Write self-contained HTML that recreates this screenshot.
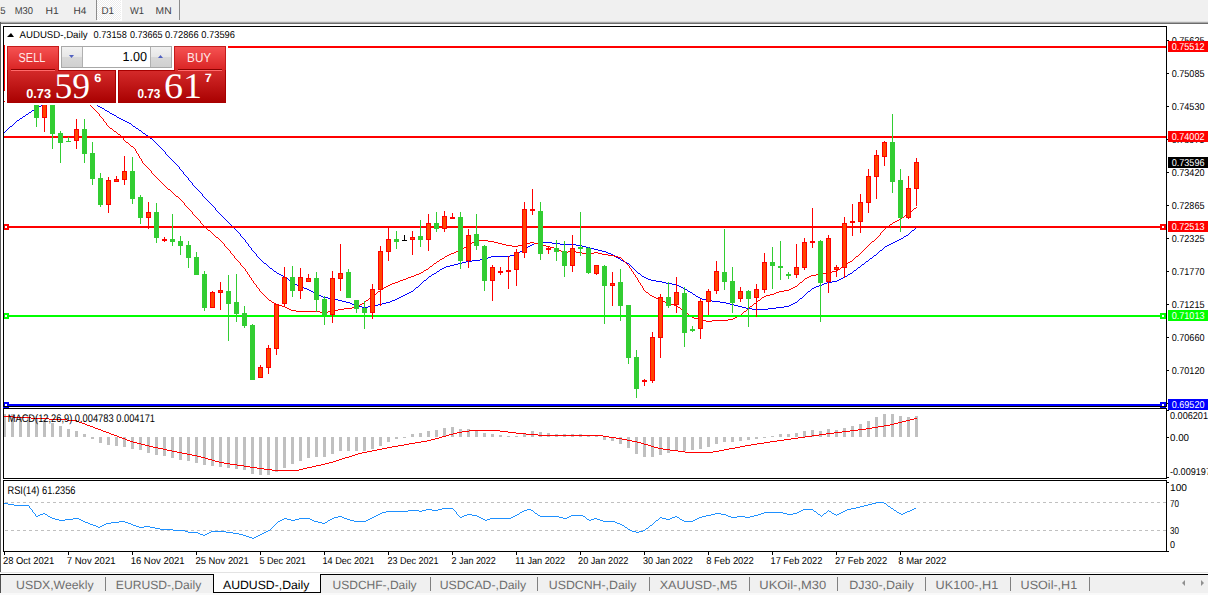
<!DOCTYPE html>
<html><head><meta charset="utf-8"><style>
html,body{margin:0;padding:0;width:1208px;height:595px;overflow:hidden;background:#fff;}
svg{display:block;}

</style></head><body>
<svg width="1208" height="595" viewBox="0 0 1208 595">
<rect x="0" y="0" width="1208" height="595" fill="#ffffff" />
<rect x="0" y="0" width="1208" height="22" fill="#f0f0f0" />
<defs><pattern id="chk" width="2" height="2" patternUnits="userSpaceOnUse"><rect width="2" height="2" fill="#ffffff"/><rect width="1" height="1" fill="#ececec"/><rect x="1" y="1" width="1" height="1" fill="#ececec"/></pattern><linearGradient id="hdr" x1="0" y1="0" x2="0" y2="1"><stop offset="0" stop-color="#f75454"/><stop offset="1" stop-color="#d92424"/></linearGradient><linearGradient id="low" x1="0" y1="0" x2="0" y2="1"><stop offset="0" stop-color="#d52b2b"/><stop offset="1" stop-color="#a80000"/></linearGradient><linearGradient id="btn" x1="0" y1="0" x2="0" y2="1"><stop offset="0" stop-color="#f2f2f2"/><stop offset="0.5" stop-color="#e6e6e6"/><stop offset="0.5" stop-color="#d8d8d8"/><stop offset="1" stop-color="#d0d0d0"/></linearGradient></defs>
<rect x="97" y="0" width="24" height="20" fill="url(#chk)" />
<rect x="97" y="20" width="25" height="1" fill="#ffffff" />
<rect x="121" y="0" width="1" height="21" fill="#ffffff" />
<rect x="96" y="0" width="1" height="20" fill="#8c8c8c" />
<rect x="179" y="0" width="1" height="20" fill="#8c8c8c" />
<text x="0.2" y="14" font-family="Liberation Sans" font-size="10" fill="#404040" text-rendering="geometricPrecision" textLength="5.3" lengthAdjust="spacingAndGlyphs" >5</text>
<text x="14.7" y="14" font-family="Liberation Sans" font-size="10" fill="#404040" text-rendering="geometricPrecision" textLength="18.3" lengthAdjust="spacingAndGlyphs" >M30</text>
<text x="45.6" y="14" font-family="Liberation Sans" font-size="10" fill="#404040" text-rendering="geometricPrecision" textLength="13.2" lengthAdjust="spacingAndGlyphs" >H1</text>
<text x="73.4" y="14" font-family="Liberation Sans" font-size="10" fill="#404040" text-rendering="geometricPrecision" textLength="12.9" lengthAdjust="spacingAndGlyphs" >H4</text>
<text x="101.5" y="14" font-family="Liberation Sans" font-size="10" fill="#404040" text-rendering="geometricPrecision" textLength="12.5" lengthAdjust="spacingAndGlyphs" >D1</text>
<text x="130.0" y="14" font-family="Liberation Sans" font-size="10" fill="#404040" text-rendering="geometricPrecision" textLength="14.0" lengthAdjust="spacingAndGlyphs" >W1</text>
<text x="155.6" y="14" font-family="Liberation Sans" font-size="10" fill="#404040" text-rendering="geometricPrecision" textLength="16.0" lengthAdjust="spacingAndGlyphs" >MN</text>
<rect x="0" y="21" width="1208" height="1" fill="#e0e0e0" />
<rect x="0" y="22" width="1208" height="1" fill="#a8a8a8" />
<rect x="0" y="23" width="1208" height="1" fill="#6c6c6c" />
<rect x="0" y="22" width="1" height="550" fill="#5c5c5c" />
<clipPath id="cm"><rect x="4" y="27" width="1162" height="379"/></clipPath>
<clipPath id="cd"><rect x="4" y="409" width="1162" height="69"/></clipPath>
<clipPath id="cr"><rect x="4" y="481" width="1162" height="70"/></clipPath>
<g clip-path="url(#cm)" shape-rendering="crispEdges">
<path d="M43 104h1v1h-1zM95 104h2v1h-2zM246 242h1v1h-1zM538 242h14v1h-14zM893 242h2v1h-2zM167 155h1v1h-1zM48 100h2v1h-2zM88 100h3v1h-3zM32 110h2v1h-2zM105 110h2v1h-2zM248 244h1v1h-1zM532 244h2v1h-2zM560 244h16v1h-16zM889 244h2v1h-2zM207 200h1v1h-1zM264 263h2v1h-2zM458 263h4v1h-4zM627 263h2v1h-2zM864 263h1v1h-1zM746 308h6v1h-6zM768 308h8v1h-8zM346 302h4v1h-4zM386 302h4v1h-4zM720 302h6v1h-6zM795 302h2v1h-2zM328 298h6v1h-6zM397 298h2v1h-2zM700 298h2v1h-2zM800 298h2v1h-2zM247 243h1v1h-1zM534 243h4v1h-4zM552 243h8v1h-8zM891 243h2v1h-2zM262 261h1v1h-1zM466 261h6v1h-6zM623 261h2v1h-2zM866 261h2v1h-2zM68 95h4v1h-4zM192 184h1v1h-1zM752 309h16v1h-16zM248 245h1v1h-1zM530 245h2v1h-2zM576 245h6v1h-6zM887 245h2v1h-2zM274 271h2v1h-2zM437 271h2v1h-2zM636 271h1v1h-1zM853 271h1v1h-1zM250 247h1v1h-1zM527 247h1v1h-1zM586 247h4v1h-4zM884 247h1v1h-1zM338 300h4v1h-4zM392 300h3v1h-3zM706 300h6v1h-6zM798 300h1v1h-1zM7 129h1v1h-1zM138 129h1v1h-1zM243 238h1v1h-1zM901 238h2v1h-2zM283 276h2v1h-2zM429 276h2v1h-2zM642 276h2v1h-2zM845 276h2v1h-2zM41 105h2v1h-2zM97 105h1v1h-1zM355 305h3v1h-3zM374 305h4v1h-4zM734 305h4v1h-4zM789 305h2v1h-2zM257 256h1v1h-1zM491 256h19v1h-19zM615 256h1v1h-1zM873 256h1v1h-1zM16 121h1v1h-1zM125 121h2v1h-2zM288 279h1v1h-1zM426 279h1v1h-1zM648 279h3v1h-3zM839 279h2v1h-2zM29 112h2v1h-2zM109 112h1v1h-1zM281 275h2v1h-2zM431 275h1v1h-1zM641 275h1v1h-1zM847 275h1v1h-1zM352 304h3v1h-3zM378 304h4v1h-4zM730 304h4v1h-4zM791 304h2v1h-2zM358 306h4v1h-4zM368 306h6v1h-6zM738 306h4v1h-4zM784 306h5v1h-5zM244 239h1v1h-1zM899 239h2v1h-2zM10 126h2v1h-2zM133 126h2v1h-2zM174 162h1v1h-1zM214 207h1v1h-1zM342 301h4v1h-4zM390 301h2v1h-2zM712 301h8v1h-8zM797 301h1v1h-1zM292 282h1v1h-1zM422 282h1v1h-1zM662 282h4v1h-4zM827 282h5v1h-5zM229 223h1v1h-1zM159 146h1v1h-1zM249 246h1v1h-1zM528 246h2v1h-2zM582 246h4v1h-4zM885 246h2v1h-2zM22 117h1v1h-1zM117 117h2v1h-2zM53 98h5v1h-5zM80 98h4v1h-4zM199 191h1v1h-1zM302 287h2v1h-2zM416 287h2v1h-2zM681 287h2v1h-2zM814 287h2v1h-2zM253 251h1v1h-1zM520 251h2v1h-2zM602 251h4v1h-4zM879 251h1v1h-1zM14 123h1v1h-1zM129 123h2v1h-2zM350 303h2v1h-2zM382 303h4v1h-4zM726 303h4v1h-4zM793 303h2v1h-2zM148 136h1v1h-1zM19 119h1v1h-1zM121 119h2v1h-2zM285 277h1v1h-1zM428 277h1v1h-1zM644 277h2v1h-2zM843 277h2v1h-2zM221 215h1v1h-1zM200 192h1v1h-1zM47 101h1v1h-1zM91 101h2v1h-2zM268 266h1v1h-1zM446 266h4v1h-4zM631 266h1v1h-1zM860 266h1v1h-1zM236 230h1v1h-1zM912 230h2v1h-2zM277 273h2v1h-2zM434 273h2v1h-2zM638 273h2v1h-2zM850 273h2v1h-2zM334 299h4v1h-4zM395 299h2v1h-2zM702 299h4v1h-4zM799 299h1v1h-1zM63 96h5v1h-5zM72 96h4v1h-4zM273 270h1v1h-1zM439 270h1v1h-1zM635 270h1v1h-1zM854 270h2v1h-2zM261 260h1v1h-1zM472 260h8v1h-8zM621 260h2v1h-2zM868 260h1v1h-1zM362 307h6v1h-6zM742 307h4v1h-4zM776 307h8v1h-8zM25 115h1v1h-1zM114 115h2v1h-2zM241 236h1v1h-1zM904 236h2v1h-2zM233 227h1v1h-1zM916 227h1v1h-1zM185 175h1v1h-1zM58 97h5v1h-5zM76 97h4v1h-4zM323 297h5v1h-5zM399 297h2v1h-2zM698 297h2v1h-2zM802 297h1v1h-1zM228 222h1v1h-1zM191 182h1v1h-1zM251 249h1v1h-1zM524 249h1v1h-1zM594 249h4v1h-4zM882 249h1v1h-1zM46 102h1v1h-1zM93 102h1v1h-1zM37 107h2v1h-2zM100 107h2v1h-2zM293 283h2v1h-2zM421 283h1v1h-1zM666 283h6v1h-6zM824 283h3v1h-3zM26 114h2v1h-2zM112 114h2v1h-2zM256 255h1v1h-1zM510 255h4v1h-4zM613 255h2v1h-2zM874 255h2v1h-2zM266 264h1v1h-1zM454 264h4v1h-4zM629 264h1v1h-1zM862 264h2v1h-2zM192 183h1v1h-1zM50 99h3v1h-3zM84 99h4v1h-4zM28 113h1v1h-1zM110 113h2v1h-2zM317 294h2v1h-2zM405 294h2v1h-2zM693 294h2v1h-2zM805 294h1v1h-1zM295 284h2v1h-2zM420 284h1v1h-1zM672 284h5v1h-5zM822 284h2v1h-2zM267 265h1v1h-1zM450 265h4v1h-4zM630 265h1v1h-1zM861 265h1v1h-1zM143 133h2v1h-2zM270 268h2v1h-2zM442 268h2v1h-2zM633 268h1v1h-1zM857 268h1v1h-1zM254 252h1v1h-1zM519 252h1v1h-1zM606 252h2v1h-2zM878 252h1v1h-1zM260 259h1v1h-1zM480 259h6v1h-6zM620 259h1v1h-1zM869 259h1v1h-1zM289 280h1v1h-1zM424 280h2v1h-2zM651 280h5v1h-5zM837 280h2v1h-2zM255 253h1v1h-1zM517 253h2v1h-2zM608 253h3v1h-3zM877 253h1v1h-1zM263 262h1v1h-1zM462 262h4v1h-4zM625 262h2v1h-2zM865 262h1v1h-1zM297 285h2v1h-2zM419 285h1v1h-1zM677 285h2v1h-2zM819 285h3v1h-3zM6 130h1v1h-1zM139 130h2v1h-2zM269 267h1v1h-1zM444 267h2v1h-2zM632 267h1v1h-1zM858 267h2v1h-2zM309 290h2v1h-2zM413 290h1v1h-1zM687 290h1v1h-1zM810 290h1v1h-1zM251 248h1v1h-1zM525 248h2v1h-2zM590 248h4v1h-4zM883 248h1v1h-1zM286 278h2v1h-2zM427 278h1v1h-1zM646 278h2v1h-2zM841 278h2v1h-2zM321 296h2v1h-2zM401 296h2v1h-2zM696 296h2v1h-2zM803 296h1v1h-1zM299 286h3v1h-3zM418 286h1v1h-1zM679 286h2v1h-2zM816 286h3v1h-3zM272 269h1v1h-1zM440 269h2v1h-2zM634 269h1v1h-1zM856 269h1v1h-1zM252 250h1v1h-1zM522 250h2v1h-2zM598 250h4v1h-4zM880 250h2v1h-2zM276 272h1v1h-1zM436 272h1v1h-1zM637 272h1v1h-1zM852 272h1v1h-1zM184 174h1v1h-1zM313 292h2v1h-2zM409 292h2v1h-2zM690 292h2v1h-2zM807 292h1v1h-1zM240 235h1v1h-1zM906 235h2v1h-2zM34 109h1v1h-1zM104 109h1v1h-1zM290 281h2v1h-2zM423 281h1v1h-1zM656 281h6v1h-6zM832 281h5v1h-5zM15 122h1v1h-1zM127 122h2v1h-2zM304 288h3v1h-3zM415 288h1v1h-1zM683 288h2v1h-2zM812 288h2v1h-2zM35 108h2v1h-2zM102 108h2v1h-2zM202 195h1v1h-1zM44 103h2v1h-2zM94 103h1v1h-1zM217 211h1v1h-1zM168 156h1v1h-1zM258 257h1v1h-1zM488 257h3v1h-3zM616 257h2v1h-2zM872 257h1v1h-1zM311 291h2v1h-2zM411 291h2v1h-2zM688 291h2v1h-2zM808 291h2v1h-2zM39 106h2v1h-2zM98 106h2v1h-2zM169 157h1v1h-1zM153 140h1v1h-1zM259 258h1v1h-1zM486 258h2v1h-2zM618 258h2v1h-2zM870 258h2v1h-2zM307 289h2v1h-2zM414 289h1v1h-1zM685 289h2v1h-2zM811 289h1v1h-1zM224 218h1v1h-1zM154 141h1v1h-1zM194 186h1v1h-1zM242 237h1v1h-1zM903 237h1v1h-1zM9 127h1v1h-1zM135 127h1v1h-1zM216 210h1v1h-1zM195 187h1v1h-1zM8 128h1v1h-1zM136 128h2v1h-2zM160 147h1v1h-1zM161 148h1v1h-1zM183 172h1v1h-1zM223 217h1v1h-1zM202 194h1v1h-1zM256 254h1v1h-1zM514 254h3v1h-3zM611 254h2v1h-2zM876 254h1v1h-1zM208 201h1v1h-1zM209 202h1v1h-1zM279 274h2v1h-2zM432 274h2v1h-2zM640 274h1v1h-1zM848 274h2v1h-2zM315 293h2v1h-2zM407 293h2v1h-2zM692 293h1v1h-1zM806 293h1v1h-1zM175 163h1v1h-1zM231 225h1v1h-1zM215 208h1v1h-1zM176 164h1v1h-1zM245 241h1v1h-1zM895 241h2v1h-2zM149 137h1v1h-1zM13 124h1v1h-1zM131 124h1v1h-1zM201 193h1v1h-1zM150 138h2v1h-2zM17 120h2v1h-2zM123 120h2v1h-2zM20 118h2v1h-2zM119 118h2v1h-2zM245 240h1v1h-1zM897 240h2v1h-2zM4 132h1v1h-1zM142 132h1v1h-1zM230 224h1v1h-1zM319 295h2v1h-2zM403 295h2v1h-2zM695 295h1v1h-1zM804 295h1v1h-1zM237 231h1v1h-1zM911 231h1v1h-1zM239 233h1v1h-1zM909 233h1v1h-1zM186 176h1v1h-1zM238 232h1v1h-1zM910 232h1v1h-1zM145 134h1v1h-1zM156 143h1v1h-1zM218 212h1v1h-1zM197 189h1v1h-1zM219 213h1v1h-1zM203 196h1v1h-1zM204 197h1v1h-1zM31 111h1v1h-1zM107 111h2v1h-2zM170 158h1v1h-1zM210 203h1v1h-1zM189 180h1v1h-1zM171 159h1v1h-1zM211 204h1v1h-1zM196 188h1v1h-1zM177 165h1v1h-1zM23 116h2v1h-2zM116 116h1v1h-1zM12 125h1v1h-1zM132 125h1v1h-1zM178 166h1v1h-1zM163 150h1v1h-1zM5 131h1v1h-1zM141 131h1v1h-1zM225 219h1v1h-1zM155 142h1v1h-1zM226 220h1v1h-1zM232 226h1v1h-1zM162 149h1v1h-1zM188 179h1v1h-1zM240 234h1v1h-1zM908 234h1v1h-1zM165 153h1v1h-1zM187 177h1v1h-1zM206 199h1v1h-1zM188 178h1v1h-1zM172 160h1v1h-1zM146 135h2v1h-2zM173 161h1v1h-1zM234 228h1v1h-1zM915 228h1v1h-1zM179 168h1v1h-1zM158 145h1v1h-1zM198 190h1v1h-1zM180 169h1v1h-1zM220 214h1v1h-1zM205 198h1v1h-1zM165 152h1v1h-1zM227 221h1v1h-1zM157 144h1v1h-1zM213 206h1v1h-1zM164 151h1v1h-1zM179 167h1v1h-1zM235 229h1v1h-1zM914 229h1v1h-1zM190 181h1v1h-1zM212 205h1v1h-1zM183 173h1v1h-1zM215 209h1v1h-1zM182 171h1v1h-1zM222 216h1v1h-1zM152 139h1v1h-1zM193 185h1v1h-1zM181 170h1v1h-1zM166 154h1v1h-1z" fill="#0000ff" shape-rendering="crispEdges"/>
<path d="M291 310h5v1h-5zM334 310h4v1h-4zM682 310h2v1h-2zM746 310h1v1h-1zM225 246h1v1h-1zM466 246h2v1h-2zM512 246h6v1h-6zM546 246h4v1h-4zM867 246h1v1h-1zM174 194h1v1h-1zM259 290h1v1h-1zM380 290h1v1h-1zM644 290h1v1h-1zM784 290h5v1h-5zM247 273h1v1h-1zM419 273h2v1h-2zM633 273h1v1h-1zM822 273h4v1h-4zM232 254h1v1h-1zM449 254h2v1h-2zM586 254h4v1h-4zM602 254h6v1h-6zM859 254h1v1h-1zM278 305h4v1h-4zM359 305h1v1h-1zM674 305h3v1h-3zM752 305h1v1h-1zM694 318h4v1h-4zM733 318h2v1h-2zM221 241h1v1h-1zM474 241h2v1h-2zM488 241h6v1h-6zM872 241h2v1h-2zM245 270h1v1h-1zM424 270h2v1h-2zM631 270h1v1h-1zM837 270h1v1h-1zM147 167h1v1h-1zM285 307h2v1h-2zM352 307h5v1h-5zM678 307h2v1h-2zM749 307h1v1h-1zM249 275h1v1h-1zM414 275h2v1h-2zM635 275h1v1h-1zM811 275h5v1h-5zM320 312h8v1h-8zM685 312h1v1h-1zM743 312h1v1h-1zM260 291h1v1h-1zM378 291h2v1h-2zM645 291h1v1h-1zM779 291h5v1h-5zM224 244h1v1h-1zM469 244h2v1h-2zM502 244h4v1h-4zM522 244h4v1h-4zM538 244h4v1h-4zM869 244h1v1h-1zM272 302h2v1h-2zM364 302h1v1h-1zM665 302h2v1h-2zM756 302h1v1h-1zM148 168h1v1h-1zM243 267h1v1h-1zM429 267h1v1h-1zM629 267h1v1h-1zM841 267h1v1h-1zM213 234h1v1h-1zM880 234h1v1h-1zM706 321h6v1h-6zM247 272h1v1h-1zM421 272h2v1h-2zM633 272h1v1h-1zM826 272h6v1h-6zM189 209h1v1h-1zM913 209h1v1h-1zM245 269h1v1h-1zM426 269h2v1h-2zM631 269h1v1h-1zM838 269h2v1h-2zM261 292h1v1h-1zM377 292h1v1h-1zM646 292h2v1h-2zM776 292h3v1h-3zM287 308h2v1h-2zM344 308h8v1h-8zM680 308h1v1h-1zM748 308h1v1h-1zM236 259h1v1h-1zM440 259h2v1h-2zM622 259h1v1h-1zM853 259h1v1h-1zM154 175h1v1h-1zM202 224h1v1h-1zM890 224h2v1h-2zM255 284h1v1h-1zM390 284h2v1h-2zM640 284h1v1h-1zM798 284h1v1h-1zM296 311h24v1h-24zM328 311h6v1h-6zM684 311h1v1h-1zM744 311h2v1h-2zM240 264h1v1h-1zM433 264h1v1h-1zM627 264h1v1h-1zM845 264h2v1h-2zM230 251h1v1h-1zM456 251h3v1h-3zM561 251h2v1h-2zM568 251h8v1h-8zM862 251h1v1h-1zM238 261h1v1h-1zM437 261h2v1h-2zM624 261h1v1h-1zM850 261h2v1h-2zM226 247h1v1h-1zM464 247h2v1h-2zM550 247h4v1h-4zM866 247h1v1h-1zM103 120h1v1h-1zM690 316h2v1h-2zM737 316h2v1h-2zM242 266h1v1h-1zM430 266h2v1h-2zM629 266h1v1h-1zM842 266h2v1h-2zM155 176h1v1h-1zM234 256h1v1h-1zM445 256h2v1h-2zM614 256h4v1h-4zM856 256h2v1h-2zM702 320h4v1h-4zM712 320h16v1h-16zM199 220h1v1h-1zM897 220h2v1h-2zM205 227h1v1h-1zM886 227h2v1h-2zM276 304h2v1h-2zM360 304h2v1h-2zM670 304h4v1h-4zM753 304h1v1h-1zM222 242h1v1h-1zM472 242h2v1h-2zM494 242h4v1h-4zM530 242h4v1h-4zM871 242h1v1h-1zM240 263h1v1h-1zM434 263h2v1h-2zM626 263h1v1h-1zM847 263h1v1h-1zM229 250h1v1h-1zM459 250h2v1h-2zM559 250h2v1h-2zM863 250h1v1h-1zM196 217h1v1h-1zM902 217h2v1h-2zM268 299h1v1h-1zM368 299h1v1h-1zM659 299h2v1h-2zM760 299h1v1h-1zM131 146h2v1h-2zM161 182h1v1h-1zM233 255h1v1h-1zM447 255h2v1h-2zM608 255h6v1h-6zM858 255h1v1h-1zM251 278h1v1h-1zM406 278h2v1h-2zM637 278h1v1h-1zM805 278h2v1h-2zM692 317h2v1h-2zM735 317h2v1h-2zM162 183h1v1h-1zM146 166h1v1h-1zM194 215h1v1h-1zM905 215h1v1h-1zM256 285h1v1h-1zM388 285h2v1h-2zM641 285h1v1h-1zM797 285h1v1h-1zM246 271h1v1h-1zM423 271h1v1h-1zM632 271h1v1h-1zM832 271h5v1h-5zM224 245h1v1h-1zM468 245h1v1h-1zM506 245h6v1h-6zM518 245h4v1h-4zM542 245h4v1h-4zM868 245h1v1h-1zM230 252h1v1h-1zM454 252h2v1h-2zM563 252h5v1h-5zM576 252h6v1h-6zM594 252h4v1h-4zM861 252h1v1h-1zM252 280h1v1h-1zM400 280h3v1h-3zM638 280h1v1h-1zM803 280h1v1h-1zM195 216h1v1h-1zM904 216h1v1h-1zM227 248h1v1h-1zM463 248h1v1h-1zM554 248h3v1h-3zM865 248h1v1h-1zM253 282h1v1h-1zM395 282h3v1h-3zM639 282h1v1h-1zM800 282h2v1h-2zM231 253h1v1h-1zM451 253h3v1h-3zM582 253h4v1h-4zM590 253h4v1h-4zM598 253h4v1h-4zM860 253h1v1h-1zM259 289h1v1h-1zM381 289h2v1h-2zM643 289h1v1h-1zM789 289h2v1h-2zM220 240h1v1h-1zM476 240h12v1h-12zM874 240h1v1h-1zM257 287h1v1h-1zM384 287h2v1h-2zM642 287h1v1h-1zM793 287h2v1h-2zM168 189h2v1h-2zM250 277h1v1h-1zM408 277h3v1h-3zM636 277h1v1h-1zM807 277h2v1h-2zM215 236h1v1h-1zM878 236h1v1h-1zM263 294h1v1h-1zM374 294h2v1h-2zM649 294h1v1h-1zM770 294h4v1h-4zM228 249h1v1h-1zM461 249h2v1h-2zM557 249h2v1h-2zM864 249h1v1h-1zM248 274h1v1h-1zM416 274h3v1h-3zM634 274h1v1h-1zM816 274h6v1h-6zM274 303h2v1h-2zM362 303h2v1h-2zM667 303h3v1h-3zM754 303h2v1h-2zM689 315h1v1h-1zM739 315h2v1h-2zM256 286h1v1h-1zM386 286h2v1h-2zM642 286h1v1h-1zM795 286h2v1h-2zM102 118h1v1h-1zM269 300h2v1h-2zM366 300h2v1h-2zM661 300h2v1h-2zM758 300h2v1h-2zM200 222h1v1h-1zM893 222h2v1h-2zM282 306h3v1h-3zM357 306h2v1h-2zM677 306h1v1h-1zM750 306h2v1h-2zM103 119h1v1h-1zM106 124h1v1h-1zM187 207h1v1h-1zM916 207h1v1h-1zM136 152h1v1h-1zM120 135h1v1h-1zM139 157h1v1h-1zM223 243h1v1h-1zM471 243h1v1h-1zM498 243h4v1h-4zM526 243h4v1h-4zM534 243h4v1h-4zM870 243h1v1h-1zM249 276h1v1h-1zM411 276h3v1h-3zM635 276h1v1h-1zM809 276h2v1h-2zM121 136h1v1h-1zM94 109h1v1h-1zM95 110h1v1h-1zM126 142h2v1h-2zM179 198h1v1h-1zM128 143h1v1h-1zM235 258h1v1h-1zM442 258h2v1h-2zM621 258h1v1h-1zM854 258h1v1h-1zM698 319h4v1h-4zM728 319h5v1h-5zM200 221h1v1h-1zM895 221h2v1h-2zM135 150h1v1h-1zM204 226h1v1h-1zM888 226h1v1h-1zM192 213h1v1h-1zM908 213h1v1h-1zM208 230h2v1h-2zM883 230h1v1h-1zM201 223h1v1h-1zM892 223h1v1h-1zM244 268h1v1h-1zM428 268h1v1h-1zM630 268h1v1h-1zM840 268h1v1h-1zM211 232h1v1h-1zM881 232h1v1h-1zM190 210h1v1h-1zM912 210h1v1h-1zM218 238h1v1h-1zM876 238h1v1h-1zM116 132h1v1h-1zM251 279h1v1h-1zM403 279h3v1h-3zM637 279h1v1h-1zM804 279h1v1h-1zM156 177h1v1h-1zM237 260h1v1h-1zM439 260h1v1h-1zM623 260h1v1h-1zM852 260h1v1h-1zM254 283h1v1h-1zM392 283h3v1h-3zM640 283h1v1h-1zM799 283h1v1h-1zM216 237h2v1h-2zM877 237h1v1h-1zM264 295h1v1h-1zM373 295h1v1h-1zM650 295h2v1h-2zM766 295h4v1h-4zM258 288h1v1h-1zM383 288h1v1h-1zM643 288h1v1h-1zM791 288h2v1h-2zM157 178h1v1h-1zM267 298h1v1h-1zM369 298h1v1h-1zM656 298h3v1h-3zM761 298h1v1h-1zM688 314h1v1h-1zM741 314h1v1h-1zM142 162h1v1h-1zM271 301h1v1h-1zM365 301h1v1h-1zM663 301h2v1h-2zM757 301h1v1h-1zM123 139h1v1h-1zM175 195h1v1h-1zM124 140h1v1h-1zM164 185h1v1h-1zM149 169h1v1h-1zM197 218h1v1h-1zM901 218h1v1h-1zM266 297h1v1h-1zM370 297h2v1h-2zM654 297h2v1h-2zM762 297h2v1h-2zM262 293h1v1h-1zM376 293h1v1h-1zM648 293h1v1h-1zM774 293h2v1h-2zM104 121h1v1h-1zM289 309h2v1h-2zM338 309h6v1h-6zM681 309h1v1h-1zM747 309h1v1h-1zM105 122h1v1h-1zM138 155h1v1h-1zM110 128h2v1h-2zM90 105h1v1h-1zM241 265h1v1h-1zM432 265h1v1h-1zM628 265h1v1h-1zM844 265h1v1h-1zM134 148h1v1h-1zM163 184h1v1h-1zM112 129h1v1h-1zM123 138h1v1h-1zM97 112h1v1h-1zM133 147h1v1h-1zM141 160h1v1h-1zM122 137h1v1h-1zM137 153h1v1h-1zM193 214h1v1h-1zM906 214h2v1h-2zM686 313h2v1h-2zM742 313h1v1h-1zM210 231h1v1h-1zM882 231h1v1h-1zM151 172h1v1h-1zM181 200h1v1h-1zM152 173h1v1h-1zM234 257h1v1h-1zM444 257h1v1h-1zM618 257h3v1h-3zM855 257h1v1h-1zM107 125h1v1h-1zM191 211h1v1h-1zM910 211h2v1h-2zM118 134h2v1h-2zM188 208h1v1h-1zM914 208h2v1h-2zM170 190h1v1h-1zM239 262h1v1h-1zM436 262h1v1h-1zM625 262h1v1h-1zM848 262h2v1h-2zM140 158h1v1h-1zM141 159h1v1h-1zM144 164h1v1h-1zM96 111h1v1h-1zM219 239h1v1h-1zM875 239h1v1h-1zM180 199h1v1h-1zM129 144h1v1h-1zM151 171h1v1h-1zM143 163h1v1h-1zM106 123h1v1h-1zM265 296h1v1h-1zM372 296h1v1h-1zM652 296h2v1h-2zM764 296h2v1h-2zM158 179h1v1h-1zM206 228h1v1h-1zM885 228h1v1h-1zM136 151h1v1h-1zM139 156h1v1h-1zM253 281h1v1h-1zM398 281h2v1h-2zM638 281h1v1h-1zM802 281h1v1h-1zM125 141h1v1h-1zM165 186h1v1h-1zM114 131h2v1h-2zM117 133h1v1h-1zM198 219h1v1h-1zM899 219h2v1h-2zM99 115h1v1h-1zM135 149h1v1h-1zM176 196h2v1h-2zM150 170h1v1h-1zM113 130h1v1h-1zM207 229h1v1h-1zM884 229h1v1h-1zM192 212h1v1h-1zM909 212h1v1h-1zM142 161h1v1h-1zM91 106h1v1h-1zM172 192h1v1h-1zM203 225h1v1h-1zM889 225h1v1h-1zM98 113h1v1h-1zM182 201h1v1h-1zM153 174h1v1h-1zM183 202h1v1h-1zM108 126h1v1h-1zM138 154h1v1h-1zM109 127h1v1h-1zM160 181h1v1h-1zM212 233h1v1h-1zM880 233h1v1h-1zM130 145h1v1h-1zM101 117h1v1h-1zM171 191h1v1h-1zM145 165h1v1h-1zM185 205h1v1h-1zM159 180h1v1h-1zM186 206h1v1h-1zM93 108h1v1h-1zM166 187h1v1h-1zM167 188h1v1h-1zM178 197h1v1h-1zM100 116h1v1h-1zM214 235h1v1h-1zM879 235h1v1h-1zM184 204h1v1h-1zM92 107h1v1h-1zM99 114h1v1h-1zM184 203h1v1h-1zM173 193h1v1h-1z" fill="#ff0000" shape-rendering="crispEdges"/>
<rect x="4" y="46" width="1162" height="2" fill="#ff0000" />
<rect x="4" y="136" width="1162" height="2" fill="#ff0000" />
<rect x="4" y="226" width="1162" height="2" fill="#ff0000" />
<rect x="4" y="315" width="1162" height="2" fill="#00ff00" />
<rect x="4" y="404" width="1162" height="2" fill="#0000ff" />
<rect x="4" y="45" width="1" height="46" fill="#ff0000" />
<rect x="4" y="45" width="1" height="46" fill="#ff0000" />
<rect x="4" y="101" width="1" height="1" fill="#ff0000" />
<rect x="36" y="90" width="1" height="37" fill="#32cd32" />
<rect x="34" y="90" width="5" height="28" fill="#32cd32" />
<rect x="44" y="90" width="1" height="42" fill="#ff0000" />
<rect x="42" y="90" width="5" height="28" fill="#ff0000" />
<rect x="43" y="91" width="3" height="26" fill="#ff4500" />
<rect x="52" y="90" width="1" height="59" fill="#32cd32" />
<rect x="50" y="90" width="5" height="44" fill="#32cd32" />
<rect x="60" y="131" width="1" height="32" fill="#32cd32" />
<rect x="58" y="133" width="5" height="10" fill="#32cd32" />
<rect x="68" y="137" width="1" height="5" fill="#32cd32" />
<rect x="66" y="141" width="5" height="1" fill="#32cd32" />
<rect x="76" y="119" width="1" height="30" fill="#ff0000" />
<rect x="74" y="129" width="5" height="12" fill="#ff0000" />
<rect x="75" y="130" width="3" height="10" fill="#ff4500" />
<rect x="84" y="119" width="1" height="44" fill="#32cd32" />
<rect x="82" y="129" width="5" height="25" fill="#32cd32" />
<rect x="92" y="142" width="1" height="43" fill="#32cd32" />
<rect x="90" y="153" width="5" height="26" fill="#32cd32" />
<rect x="100" y="173" width="1" height="34" fill="#32cd32" />
<rect x="98" y="178" width="5" height="27" fill="#32cd32" />
<rect x="108" y="177" width="1" height="36" fill="#ff0000" />
<rect x="106" y="180" width="5" height="25" fill="#ff0000" />
<rect x="107" y="181" width="3" height="23" fill="#ff4500" />
<rect x="116" y="176" width="1" height="6" fill="#ff0000" />
<rect x="114" y="179" width="5" height="3" fill="#ff0000" />
<rect x="115" y="180" width="3" height="1" fill="#ff4500" />
<rect x="124" y="156" width="1" height="29" fill="#ff0000" />
<rect x="122" y="171" width="5" height="9" fill="#ff0000" />
<rect x="123" y="172" width="3" height="7" fill="#ff4500" />
<rect x="132" y="157" width="1" height="47" fill="#32cd32" />
<rect x="130" y="171" width="5" height="28" fill="#32cd32" />
<rect x="140" y="195" width="1" height="29" fill="#32cd32" />
<rect x="138" y="197" width="5" height="21" fill="#32cd32" />
<rect x="148" y="202" width="1" height="27" fill="#ff0000" />
<rect x="146" y="212" width="5" height="6" fill="#ff0000" />
<rect x="147" y="213" width="3" height="4" fill="#ff4500" />
<rect x="156" y="203" width="1" height="40" fill="#32cd32" />
<rect x="154" y="212" width="5" height="26" fill="#32cd32" />
<rect x="164" y="237" width="1" height="5" fill="#ff0000" />
<rect x="162" y="239" width="5" height="2" fill="#ff0000" />
<rect x="172" y="214" width="1" height="32" fill="#32cd32" />
<rect x="170" y="239" width="5" height="3" fill="#32cd32" />
<rect x="180" y="236" width="1" height="19" fill="#32cd32" />
<rect x="178" y="241" width="5" height="5" fill="#32cd32" />
<rect x="188" y="241" width="1" height="27" fill="#32cd32" />
<rect x="186" y="245" width="5" height="13" fill="#32cd32" />
<rect x="196" y="252" width="1" height="23" fill="#32cd32" />
<rect x="194" y="257" width="5" height="18" fill="#32cd32" />
<rect x="204" y="271" width="1" height="40" fill="#32cd32" />
<rect x="202" y="274" width="5" height="34" fill="#32cd32" />
<rect x="212" y="291" width="1" height="17" fill="#ff0000" />
<rect x="210" y="292" width="5" height="16" fill="#ff0000" />
<rect x="211" y="293" width="3" height="14" fill="#ff4500" />
<rect x="220" y="282" width="1" height="28" fill="#ff0000" />
<rect x="218" y="290" width="5" height="3" fill="#ff0000" />
<rect x="219" y="291" width="3" height="1" fill="#ff4500" />
<rect x="228" y="275" width="1" height="66" fill="#32cd32" />
<rect x="226" y="291" width="5" height="13" fill="#32cd32" />
<rect x="236" y="274" width="1" height="48" fill="#32cd32" />
<rect x="234" y="302" width="5" height="12" fill="#32cd32" />
<rect x="244" y="306" width="1" height="22" fill="#32cd32" />
<rect x="242" y="313" width="5" height="13" fill="#32cd32" />
<rect x="252" y="324" width="1" height="56" fill="#32cd32" />
<rect x="250" y="325" width="5" height="55" fill="#32cd32" />
<rect x="260" y="365" width="1" height="13" fill="#ff0000" />
<rect x="258" y="367" width="5" height="11" fill="#ff0000" />
<rect x="259" y="368" width="3" height="9" fill="#ff4500" />
<rect x="268" y="345" width="1" height="29" fill="#ff0000" />
<rect x="266" y="348" width="5" height="20" fill="#ff0000" />
<rect x="267" y="349" width="3" height="18" fill="#ff4500" />
<rect x="276" y="304" width="1" height="51" fill="#ff0000" />
<rect x="274" y="304" width="5" height="45" fill="#ff0000" />
<rect x="275" y="305" width="3" height="43" fill="#ff4500" />
<rect x="284" y="267" width="1" height="40" fill="#ff0000" />
<rect x="282" y="277" width="5" height="27" fill="#ff0000" />
<rect x="283" y="278" width="3" height="25" fill="#ff4500" />
<rect x="292" y="266" width="1" height="31" fill="#32cd32" />
<rect x="290" y="277" width="5" height="14" fill="#32cd32" />
<rect x="300" y="268" width="1" height="31" fill="#ff0000" />
<rect x="298" y="277" width="5" height="14" fill="#ff0000" />
<rect x="299" y="278" width="3" height="12" fill="#ff4500" />
<rect x="308" y="274" width="1" height="8" fill="#ff0000" />
<rect x="306" y="278" width="5" height="4" fill="#ff0000" />
<rect x="307" y="279" width="3" height="2" fill="#ff4500" />
<rect x="316" y="272" width="1" height="40" fill="#32cd32" />
<rect x="314" y="278" width="5" height="22" fill="#32cd32" />
<rect x="324" y="296" width="1" height="29" fill="#32cd32" />
<rect x="322" y="299" width="5" height="16" fill="#32cd32" />
<rect x="332" y="271" width="1" height="52" fill="#ff0000" />
<rect x="330" y="278" width="5" height="37" fill="#ff0000" />
<rect x="331" y="279" width="3" height="35" fill="#ff4500" />
<rect x="340" y="244" width="1" height="47" fill="#ff0000" />
<rect x="338" y="273" width="5" height="6" fill="#ff0000" />
<rect x="339" y="274" width="3" height="4" fill="#ff4500" />
<rect x="348" y="269" width="1" height="29" fill="#32cd32" />
<rect x="346" y="272" width="5" height="26" fill="#32cd32" />
<rect x="356" y="300" width="1" height="13" fill="#32cd32" />
<rect x="354" y="300" width="5" height="9" fill="#32cd32" />
<rect x="364" y="301" width="1" height="28" fill="#32cd32" />
<rect x="362" y="308" width="5" height="5" fill="#32cd32" />
<rect x="372" y="284" width="1" height="35" fill="#ff0000" />
<rect x="370" y="289" width="5" height="24" fill="#ff0000" />
<rect x="371" y="290" width="3" height="22" fill="#ff4500" />
<rect x="380" y="246" width="1" height="60" fill="#ff0000" />
<rect x="378" y="251" width="5" height="39" fill="#ff0000" />
<rect x="379" y="252" width="3" height="37" fill="#ff4500" />
<rect x="388" y="227" width="1" height="34" fill="#ff0000" />
<rect x="386" y="239" width="5" height="13" fill="#ff0000" />
<rect x="387" y="240" width="3" height="11" fill="#ff4500" />
<rect x="396" y="231" width="1" height="18" fill="#32cd32" />
<rect x="394" y="239" width="5" height="3" fill="#32cd32" />
<rect x="404" y="235" width="1" height="6" fill="#000" />
<rect x="402" y="240" width="5" height="1" fill="#000" />
<rect x="412" y="231" width="1" height="24" fill="#ff0000" />
<rect x="410" y="237" width="5" height="3" fill="#ff0000" />
<rect x="411" y="238" width="3" height="1" fill="#ff4500" />
<rect x="420" y="220" width="1" height="27" fill="#32cd32" />
<rect x="418" y="236" width="5" height="4" fill="#32cd32" />
<rect x="428" y="214" width="1" height="37" fill="#ff0000" />
<rect x="426" y="223" width="5" height="17" fill="#ff0000" />
<rect x="427" y="224" width="3" height="15" fill="#ff4500" />
<rect x="436" y="212" width="1" height="20" fill="#32cd32" />
<rect x="434" y="223" width="5" height="6" fill="#32cd32" />
<rect x="444" y="211" width="1" height="21" fill="#ff0000" />
<rect x="442" y="216" width="5" height="13" fill="#ff0000" />
<rect x="443" y="217" width="3" height="11" fill="#ff4500" />
<rect x="452" y="213" width="1" height="6" fill="#ff0000" />
<rect x="450" y="217" width="5" height="2" fill="#ff0000" />
<rect x="460" y="212" width="1" height="57" fill="#32cd32" />
<rect x="458" y="217" width="5" height="44" fill="#32cd32" />
<rect x="468" y="229" width="1" height="39" fill="#ff0000" />
<rect x="466" y="235" width="5" height="26" fill="#ff0000" />
<rect x="467" y="236" width="3" height="24" fill="#ff4500" />
<rect x="476" y="214" width="1" height="36" fill="#32cd32" />
<rect x="474" y="234" width="5" height="12" fill="#32cd32" />
<rect x="484" y="245" width="1" height="46" fill="#32cd32" />
<rect x="482" y="246" width="5" height="35" fill="#32cd32" />
<rect x="492" y="265" width="1" height="36" fill="#ff0000" />
<rect x="490" y="267" width="5" height="14" fill="#ff0000" />
<rect x="491" y="268" width="3" height="12" fill="#ff4500" />
<rect x="500" y="267" width="1" height="8" fill="#ff0000" />
<rect x="498" y="271" width="5" height="2" fill="#ff0000" />
<rect x="508" y="256" width="1" height="33" fill="#ff0000" />
<rect x="506" y="270" width="5" height="2" fill="#ff0000" />
<rect x="516" y="249" width="1" height="37" fill="#ff0000" />
<rect x="514" y="252" width="5" height="18" fill="#ff0000" />
<rect x="515" y="253" width="3" height="16" fill="#ff4500" />
<rect x="524" y="202" width="1" height="56" fill="#ff0000" />
<rect x="522" y="209" width="5" height="44" fill="#ff0000" />
<rect x="523" y="210" width="3" height="42" fill="#ff4500" />
<rect x="532" y="189" width="1" height="26" fill="#ff0000" />
<rect x="530" y="209" width="5" height="2" fill="#ff0000" />
<rect x="540" y="202" width="1" height="58" fill="#32cd32" />
<rect x="538" y="211" width="5" height="43" fill="#32cd32" />
<rect x="548" y="247" width="1" height="7" fill="#ff0000" />
<rect x="546" y="248" width="5" height="2" fill="#ff0000" />
<rect x="556" y="240" width="1" height="21" fill="#32cd32" />
<rect x="554" y="248" width="5" height="4" fill="#32cd32" />
<rect x="564" y="241" width="1" height="36" fill="#32cd32" />
<rect x="562" y="251" width="5" height="15" fill="#32cd32" />
<rect x="572" y="235" width="1" height="37" fill="#ff0000" />
<rect x="570" y="248" width="5" height="18" fill="#ff0000" />
<rect x="571" y="249" width="3" height="16" fill="#ff4500" />
<rect x="580" y="212" width="1" height="44" fill="#32cd32" />
<rect x="578" y="247" width="5" height="2" fill="#32cd32" />
<rect x="588" y="247" width="1" height="27" fill="#32cd32" />
<rect x="586" y="248" width="5" height="25" fill="#32cd32" />
<rect x="596" y="265" width="1" height="10" fill="#ff0000" />
<rect x="594" y="265" width="5" height="9" fill="#ff0000" />
<rect x="595" y="266" width="3" height="7" fill="#ff4500" />
<rect x="604" y="265" width="1" height="59" fill="#32cd32" />
<rect x="602" y="266" width="5" height="20" fill="#32cd32" />
<rect x="612" y="272" width="1" height="34" fill="#ff0000" />
<rect x="610" y="283" width="5" height="3" fill="#ff0000" />
<rect x="611" y="284" width="3" height="1" fill="#ff4500" />
<rect x="620" y="269" width="1" height="52" fill="#32cd32" />
<rect x="618" y="282" width="5" height="24" fill="#32cd32" />
<rect x="628" y="305" width="1" height="59" fill="#32cd32" />
<rect x="626" y="305" width="5" height="53" fill="#32cd32" />
<rect x="636" y="350" width="1" height="48" fill="#32cd32" />
<rect x="634" y="357" width="5" height="32" fill="#32cd32" />
<rect x="644" y="379" width="1" height="7" fill="#ff0000" />
<rect x="642" y="380" width="5" height="2" fill="#ff0000" />
<rect x="652" y="332" width="1" height="51" fill="#ff0000" />
<rect x="650" y="337" width="5" height="44" fill="#ff0000" />
<rect x="651" y="338" width="3" height="42" fill="#ff4500" />
<rect x="660" y="294" width="1" height="64" fill="#ff0000" />
<rect x="658" y="297" width="5" height="41" fill="#ff0000" />
<rect x="659" y="298" width="3" height="39" fill="#ff4500" />
<rect x="668" y="282" width="1" height="26" fill="#32cd32" />
<rect x="666" y="297" width="5" height="9" fill="#32cd32" />
<rect x="676" y="277" width="1" height="36" fill="#ff0000" />
<rect x="674" y="292" width="5" height="13" fill="#ff0000" />
<rect x="675" y="293" width="3" height="11" fill="#ff4500" />
<rect x="684" y="287" width="1" height="60" fill="#32cd32" />
<rect x="682" y="293" width="5" height="40" fill="#32cd32" />
<rect x="692" y="326" width="1" height="6" fill="#32cd32" />
<rect x="690" y="329" width="5" height="2" fill="#32cd32" />
<rect x="700" y="299" width="1" height="40" fill="#ff0000" />
<rect x="698" y="301" width="5" height="28" fill="#ff0000" />
<rect x="699" y="302" width="3" height="26" fill="#ff4500" />
<rect x="708" y="289" width="1" height="26" fill="#ff0000" />
<rect x="706" y="291" width="5" height="11" fill="#ff0000" />
<rect x="707" y="292" width="3" height="9" fill="#ff4500" />
<rect x="716" y="261" width="1" height="33" fill="#ff0000" />
<rect x="714" y="271" width="5" height="20" fill="#ff0000" />
<rect x="715" y="272" width="3" height="18" fill="#ff4500" />
<rect x="724" y="229" width="1" height="61" fill="#32cd32" />
<rect x="722" y="272" width="5" height="10" fill="#32cd32" />
<rect x="732" y="267" width="1" height="46" fill="#32cd32" />
<rect x="730" y="281" width="5" height="22" fill="#32cd32" />
<rect x="740" y="287" width="1" height="15" fill="#ff0000" />
<rect x="738" y="291" width="5" height="8" fill="#ff0000" />
<rect x="739" y="292" width="3" height="6" fill="#ff4500" />
<rect x="748" y="290" width="1" height="37" fill="#32cd32" />
<rect x="746" y="291" width="5" height="8" fill="#32cd32" />
<rect x="756" y="284" width="1" height="33" fill="#ff0000" />
<rect x="754" y="289" width="5" height="9" fill="#ff0000" />
<rect x="755" y="290" width="3" height="7" fill="#ff4500" />
<rect x="764" y="253" width="1" height="40" fill="#ff0000" />
<rect x="762" y="262" width="5" height="28" fill="#ff0000" />
<rect x="763" y="263" width="3" height="26" fill="#ff4500" />
<rect x="772" y="247" width="1" height="42" fill="#32cd32" />
<rect x="770" y="262" width="5" height="4" fill="#32cd32" />
<rect x="780" y="241" width="1" height="39" fill="#32cd32" />
<rect x="778" y="266" width="5" height="2" fill="#32cd32" />
<rect x="788" y="272" width="1" height="7" fill="#32cd32" />
<rect x="786" y="274" width="5" height="2" fill="#32cd32" />
<rect x="796" y="244" width="1" height="34" fill="#ff0000" />
<rect x="794" y="267" width="5" height="8" fill="#ff0000" />
<rect x="795" y="268" width="3" height="6" fill="#ff4500" />
<rect x="804" y="238" width="1" height="32" fill="#ff0000" />
<rect x="802" y="242" width="5" height="26" fill="#ff0000" />
<rect x="803" y="243" width="3" height="24" fill="#ff4500" />
<rect x="812" y="208" width="1" height="40" fill="#ff0000" />
<rect x="810" y="241" width="5" height="2" fill="#ff0000" />
<rect x="820" y="240" width="1" height="82" fill="#32cd32" />
<rect x="818" y="241" width="5" height="42" fill="#32cd32" />
<rect x="828" y="235" width="1" height="58" fill="#ff0000" />
<rect x="826" y="238" width="5" height="44" fill="#ff0000" />
<rect x="827" y="239" width="3" height="42" fill="#ff4500" />
<rect x="836" y="265" width="1" height="12" fill="#ff0000" />
<rect x="834" y="267" width="5" height="3" fill="#ff0000" />
<rect x="835" y="268" width="3" height="1" fill="#ff4500" />
<rect x="844" y="217" width="1" height="61" fill="#ff0000" />
<rect x="842" y="223" width="5" height="45" fill="#ff0000" />
<rect x="843" y="224" width="3" height="43" fill="#ff4500" />
<rect x="852" y="204" width="1" height="32" fill="#ff0000" />
<rect x="850" y="221" width="5" height="2" fill="#ff0000" />
<rect x="860" y="194" width="1" height="39" fill="#ff0000" />
<rect x="858" y="202" width="5" height="20" fill="#ff0000" />
<rect x="859" y="203" width="3" height="18" fill="#ff4500" />
<rect x="868" y="169" width="1" height="44" fill="#ff0000" />
<rect x="866" y="176" width="5" height="27" fill="#ff0000" />
<rect x="867" y="177" width="3" height="25" fill="#ff4500" />
<rect x="876" y="150" width="1" height="49" fill="#ff0000" />
<rect x="874" y="155" width="5" height="22" fill="#ff0000" />
<rect x="875" y="156" width="3" height="20" fill="#ff4500" />
<rect x="884" y="141" width="1" height="25" fill="#ff0000" />
<rect x="882" y="142" width="5" height="15" fill="#ff0000" />
<rect x="883" y="143" width="3" height="13" fill="#ff4500" />
<rect x="892" y="114" width="1" height="79" fill="#32cd32" />
<rect x="890" y="142" width="5" height="40" fill="#32cd32" />
<rect x="900" y="169" width="1" height="63" fill="#32cd32" />
<rect x="898" y="180" width="5" height="38" fill="#32cd32" />
<rect x="908" y="176" width="1" height="43" fill="#ff0000" />
<rect x="906" y="188" width="5" height="30" fill="#ff0000" />
<rect x="907" y="189" width="3" height="28" fill="#ff4500" />
<rect x="916" y="158" width="1" height="48" fill="#ff0000" />
<rect x="914" y="162" width="5" height="27" fill="#ff0000" />
<rect x="915" y="163" width="3" height="25" fill="#ff4500" />
</g>
<rect x="3" y="224" width="6" height="6" fill="#ff0000" />
<rect x="5" y="226" width="2" height="2" fill="#ffffff" />
<rect x="1160" y="224" width="6" height="6" fill="#ff0000" />
<rect x="1162" y="226" width="2" height="2" fill="#ffffff" />
<rect x="3" y="313" width="6" height="6" fill="#00ff00" />
<rect x="5" y="315" width="2" height="2" fill="#ffffff" />
<rect x="1160" y="313" width="6" height="6" fill="#00ff00" />
<rect x="1162" y="315" width="2" height="2" fill="#ffffff" />
<rect x="3" y="402" width="6" height="6" fill="#0000ff" />
<rect x="5" y="404" width="2" height="2" fill="#ffffff" />
<rect x="1160" y="402" width="6" height="6" fill="#0000ff" />
<rect x="1162" y="404" width="2" height="2" fill="#ffffff" />
<rect x="3" y="26" width="1164" height="1" fill="#000" />
<rect x="3" y="406" width="1164" height="1" fill="#000" />
<rect x="3" y="26" width="1" height="381" fill="#000" />
<rect x="1166" y="26" width="1" height="381" fill="#000" />
<rect x="3" y="408" width="1164" height="1" fill="#000" />
<rect x="3" y="478" width="1164" height="1" fill="#000" />
<rect x="3" y="408" width="1" height="71" fill="#000" />
<rect x="1166" y="408" width="1" height="71" fill="#000" />
<rect x="3" y="480" width="1164" height="1" fill="#000" />
<rect x="3" y="551" width="1164" height="1" fill="#000" />
<rect x="3" y="480" width="1" height="72" fill="#000" />
<rect x="1166" y="480" width="1" height="72" fill="#000" />
<path d="M7,37 L11,33 L14,37 Z" fill="#000"/>
<text x="19.5" y="38" font-family="Liberation Sans" font-size="10" fill="#000" text-rendering="geometricPrecision" textLength="68.1" lengthAdjust="spacingAndGlyphs" >AUDUSD-,Daily</text>
<text x="93.6" y="38" font-family="Liberation Sans" font-size="10" fill="#000" text-rendering="geometricPrecision" textLength="33.2" lengthAdjust="spacingAndGlyphs" >0.73158</text>
<text x="129.9" y="38" font-family="Liberation Sans" font-size="10" fill="#000" text-rendering="geometricPrecision" textLength="32.6" lengthAdjust="spacingAndGlyphs" >0.73665</text>
<text x="165.1" y="38" font-family="Liberation Sans" font-size="10" fill="#000" text-rendering="geometricPrecision" textLength="33.6" lengthAdjust="spacingAndGlyphs" >0.72866</text>
<text x="201.3" y="38" font-family="Liberation Sans" font-size="10" fill="#000" text-rendering="geometricPrecision" textLength="33.7" lengthAdjust="spacingAndGlyphs" >0.73596</text>
<rect x="5" y="44" width="223" height="61" fill="#ffffff" />
<rect x="7" y="46" width="52" height="24" fill="url(#hdr)" />
<rect x="174" y="46" width="52" height="24" fill="url(#hdr)" />
<rect x="7" y="70" width="109" height="33" fill="url(#low)" />
<rect x="118" y="70" width="108" height="33" fill="url(#low)" />
<rect x="7" y="46" width="52" height="1" fill="#c41a1a" />
<rect x="7" y="46" width="1" height="24" fill="#c41a1a" />
<rect x="58" y="46" width="1" height="24" fill="#c41a1a" />
<rect x="174" y="46" width="52" height="1" fill="#c41a1a" />
<rect x="174" y="46" width="1" height="24" fill="#c41a1a" />
<rect x="225" y="46" width="1" height="24" fill="#c41a1a" />
<rect x="7" y="70" width="1" height="33" fill="#a80000" />
<rect x="115" y="70" width="1" height="33" fill="#a80000" />
<rect x="7" y="102" width="109" height="1" fill="#a80000" />
<rect x="58" y="70" width="58" height="1" fill="#a80000" />
<rect x="118" y="70" width="1" height="33" fill="#a80000" />
<rect x="225" y="70" width="1" height="33" fill="#a80000" />
<rect x="118" y="102" width="108" height="1" fill="#a80000" />
<rect x="118" y="70" width="57" height="1" fill="#a80000" />
<rect x="11" y="69" width="44" height="1" fill="#8a0000" />
<rect x="11" y="70" width="44" height="1" fill="#ff6a6a" />
<rect x="178" y="69" width="44" height="1" fill="#8a0000" />
<rect x="178" y="70" width="44" height="1" fill="#ff6a6a" />
<text x="18.6" y="62" font-family="Liberation Sans" font-size="13" fill="#ffe8e8" text-rendering="geometricPrecision" textLength="26.7" lengthAdjust="spacingAndGlyphs" >SELL</text>
<text x="187.1" y="62" font-family="Liberation Sans" font-size="13" fill="#ffe8e8" text-rendering="geometricPrecision" textLength="24.1" lengthAdjust="spacingAndGlyphs" >BUY</text>
<rect x="61" y="46" width="111" height="22" fill="#a8a8a8" />
<rect x="62" y="47" width="109" height="20" fill="#ffffff" />
<rect x="62" y="47" width="20" height="20" fill="url(#btn)" />
<rect x="82" y="47" width="1" height="20" fill="#b0b0b0" />
<rect x="151" y="47" width="20" height="20" fill="url(#btn)" />
<rect x="150" y="47" width="1" height="20" fill="#b0b0b0" />
<path d="M69,55 L74,55 L71.5,58 Z" fill="#5060c0"/>
<path d="M158,58 L163,58 L160.5,55 Z" fill="#5060c0"/>
<text x="122.5" y="61" font-family="Liberation Sans" font-size="13" fill="#000" text-rendering="geometricPrecision" textLength="24.6" lengthAdjust="spacingAndGlyphs" >1.00</text>
<text x="26.2" y="98" font-family="Liberation Sans" font-size="13" fill="#ffffff" text-rendering="geometricPrecision" textLength="24.8" lengthAdjust="spacingAndGlyphs" font-weight="bold" >0.73</text>
<text x="54.5" y="98" font-family="Liberation Serif" font-size="36" fill="#ffffff" text-rendering="geometricPrecision" textLength="35.5" lengthAdjust="spacingAndGlyphs" >59</text>
<text x="94.3" y="82" font-family="Liberation Sans" font-size="12" fill="#ffffff" text-rendering="geometricPrecision" textLength="7.1" lengthAdjust="spacingAndGlyphs" font-weight="bold" >6</text>
<text x="137.5" y="98" font-family="Liberation Sans" font-size="13" fill="#ffffff" text-rendering="geometricPrecision" textLength="22.9" lengthAdjust="spacingAndGlyphs" font-weight="bold" >0.73</text>
<text x="164.0" y="98" font-family="Liberation Serif" font-size="36" fill="#ffffff" text-rendering="geometricPrecision" textLength="38.0" lengthAdjust="spacingAndGlyphs" >61</text>
<text x="204.7" y="82" font-family="Liberation Sans" font-size="12" fill="#ffffff" text-rendering="geometricPrecision" textLength="7.1" lengthAdjust="spacingAndGlyphs" font-weight="bold" >7</text>
<g clip-path="url(#cd)" shape-rendering="crispEdges">
<rect x="3" y="414" width="3" height="23" fill="#c0c0c0" />
<rect x="11" y="414" width="3" height="23" fill="#c0c0c0" />
<rect x="19" y="417" width="3" height="20" fill="#c0c0c0" />
<rect x="27" y="418" width="3" height="19" fill="#c0c0c0" />
<rect x="35" y="418" width="3" height="19" fill="#c0c0c0" />
<rect x="43" y="420" width="3" height="17" fill="#c0c0c0" />
<rect x="51" y="423" width="3" height="14" fill="#c0c0c0" />
<rect x="59" y="426" width="3" height="11" fill="#c0c0c0" />
<rect x="67" y="429" width="3" height="8" fill="#c0c0c0" />
<rect x="75" y="431" width="3" height="6" fill="#c0c0c0" />
<rect x="83" y="434" width="3" height="3" fill="#c0c0c0" />
<rect x="91" y="437" width="3" height="2" fill="#c0c0c0" />
<rect x="99" y="437" width="3" height="6" fill="#c0c0c0" />
<rect x="107" y="437" width="3" height="8" fill="#c0c0c0" />
<rect x="115" y="437" width="3" height="9" fill="#c0c0c0" />
<rect x="123" y="437" width="3" height="10" fill="#c0c0c0" />
<rect x="131" y="437" width="3" height="12" fill="#c0c0c0" />
<rect x="139" y="437" width="3" height="13" fill="#c0c0c0" />
<rect x="147" y="437" width="3" height="16" fill="#c0c0c0" />
<rect x="155" y="437" width="3" height="18" fill="#c0c0c0" />
<rect x="163" y="437" width="3" height="19" fill="#c0c0c0" />
<rect x="171" y="437" width="3" height="21" fill="#c0c0c0" />
<rect x="179" y="437" width="3" height="23" fill="#c0c0c0" />
<rect x="187" y="437" width="3" height="24" fill="#c0c0c0" />
<rect x="195" y="437" width="3" height="26" fill="#c0c0c0" />
<rect x="203" y="437" width="3" height="28" fill="#c0c0c0" />
<rect x="211" y="437" width="3" height="29" fill="#c0c0c0" />
<rect x="219" y="437" width="3" height="30" fill="#c0c0c0" />
<rect x="227" y="437" width="3" height="31" fill="#c0c0c0" />
<rect x="235" y="437" width="3" height="32" fill="#c0c0c0" />
<rect x="243" y="437" width="3" height="33" fill="#c0c0c0" />
<rect x="251" y="437" width="3" height="37" fill="#c0c0c0" />
<rect x="259" y="437" width="3" height="38" fill="#c0c0c0" />
<rect x="267" y="437" width="3" height="38" fill="#c0c0c0" />
<rect x="275" y="437" width="3" height="35" fill="#c0c0c0" />
<rect x="283" y="437" width="3" height="31" fill="#c0c0c0" />
<rect x="291" y="437" width="3" height="27" fill="#c0c0c0" />
<rect x="299" y="437" width="3" height="24" fill="#c0c0c0" />
<rect x="307" y="437" width="3" height="21" fill="#c0c0c0" />
<rect x="315" y="437" width="3" height="20" fill="#c0c0c0" />
<rect x="323" y="437" width="3" height="20" fill="#c0c0c0" />
<rect x="331" y="437" width="3" height="17" fill="#c0c0c0" />
<rect x="339" y="437" width="3" height="14" fill="#c0c0c0" />
<rect x="347" y="437" width="3" height="14" fill="#c0c0c0" />
<rect x="355" y="437" width="3" height="14" fill="#c0c0c0" />
<rect x="363" y="437" width="3" height="14" fill="#c0c0c0" />
<rect x="371" y="437" width="3" height="12" fill="#c0c0c0" />
<rect x="379" y="437" width="3" height="9" fill="#c0c0c0" />
<rect x="387" y="437" width="3" height="5" fill="#c0c0c0" />
<rect x="395" y="437" width="3" height="2" fill="#c0c0c0" />
<rect x="403" y="437" width="3" height="1" fill="#c0c0c0" />
<rect x="411" y="434" width="3" height="3" fill="#c0c0c0" />
<rect x="419" y="433" width="3" height="4" fill="#c0c0c0" />
<rect x="427" y="431" width="3" height="6" fill="#c0c0c0" />
<rect x="435" y="430" width="3" height="7" fill="#c0c0c0" />
<rect x="443" y="428" width="3" height="9" fill="#c0c0c0" />
<rect x="451" y="427" width="3" height="10" fill="#c0c0c0" />
<rect x="459" y="429" width="3" height="8" fill="#c0c0c0" />
<rect x="467" y="429" width="3" height="8" fill="#c0c0c0" />
<rect x="475" y="430" width="3" height="7" fill="#c0c0c0" />
<rect x="483" y="433" width="3" height="4" fill="#c0c0c0" />
<rect x="491" y="434" width="3" height="3" fill="#c0c0c0" />
<rect x="499" y="435" width="3" height="2" fill="#c0c0c0" />
<rect x="507" y="436" width="3" height="1" fill="#c0c0c0" />
<rect x="515" y="436" width="3" height="1" fill="#c0c0c0" />
<rect x="523" y="433" width="3" height="4" fill="#c0c0c0" />
<rect x="531" y="431" width="3" height="6" fill="#c0c0c0" />
<rect x="539" y="432" width="3" height="5" fill="#c0c0c0" />
<rect x="547" y="433" width="3" height="4" fill="#c0c0c0" />
<rect x="555" y="434" width="3" height="3" fill="#c0c0c0" />
<rect x="563" y="434" width="3" height="3" fill="#c0c0c0" />
<rect x="571" y="434" width="3" height="3" fill="#c0c0c0" />
<rect x="579" y="434" width="3" height="3" fill="#c0c0c0" />
<rect x="587" y="436" width="3" height="1" fill="#c0c0c0" />
<rect x="595" y="436" width="3" height="1" fill="#c0c0c0" />
<rect x="603" y="437" width="3" height="3" fill="#c0c0c0" />
<rect x="611" y="437" width="3" height="4" fill="#c0c0c0" />
<rect x="619" y="437" width="3" height="7" fill="#c0c0c0" />
<rect x="627" y="437" width="3" height="11" fill="#c0c0c0" />
<rect x="635" y="437" width="3" height="17" fill="#c0c0c0" />
<rect x="643" y="437" width="3" height="20" fill="#c0c0c0" />
<rect x="651" y="437" width="3" height="20" fill="#c0c0c0" />
<rect x="659" y="437" width="3" height="18" fill="#c0c0c0" />
<rect x="667" y="437" width="3" height="16" fill="#c0c0c0" />
<rect x="675" y="437" width="3" height="13" fill="#c0c0c0" />
<rect x="683" y="437" width="3" height="14" fill="#c0c0c0" />
<rect x="691" y="437" width="3" height="13" fill="#c0c0c0" />
<rect x="699" y="437" width="3" height="12" fill="#c0c0c0" />
<rect x="707" y="437" width="3" height="10" fill="#c0c0c0" />
<rect x="715" y="437" width="3" height="7" fill="#c0c0c0" />
<rect x="723" y="437" width="3" height="5" fill="#c0c0c0" />
<rect x="731" y="437" width="3" height="5" fill="#c0c0c0" />
<rect x="739" y="437" width="3" height="4" fill="#c0c0c0" />
<rect x="747" y="437" width="3" height="3" fill="#c0c0c0" />
<rect x="755" y="437" width="3" height="2" fill="#c0c0c0" />
<rect x="763" y="437" width="3" height="1" fill="#c0c0c0" />
<rect x="771" y="436" width="3" height="1" fill="#c0c0c0" />
<rect x="779" y="434" width="3" height="3" fill="#c0c0c0" />
<rect x="787" y="434" width="3" height="3" fill="#c0c0c0" />
<rect x="795" y="433" width="3" height="4" fill="#c0c0c0" />
<rect x="803" y="431" width="3" height="6" fill="#c0c0c0" />
<rect x="811" y="430" width="3" height="7" fill="#c0c0c0" />
<rect x="819" y="431" width="3" height="6" fill="#c0c0c0" />
<rect x="827" y="429" width="3" height="8" fill="#c0c0c0" />
<rect x="835" y="430" width="3" height="7" fill="#c0c0c0" />
<rect x="843" y="428" width="3" height="9" fill="#c0c0c0" />
<rect x="851" y="426" width="3" height="11" fill="#c0c0c0" />
<rect x="859" y="424" width="3" height="13" fill="#c0c0c0" />
<rect x="867" y="421" width="3" height="16" fill="#c0c0c0" />
<rect x="875" y="417" width="3" height="20" fill="#c0c0c0" />
<rect x="883" y="414" width="3" height="23" fill="#c0c0c0" />
<rect x="891" y="414" width="3" height="23" fill="#c0c0c0" />
<rect x="899" y="416" width="3" height="21" fill="#c0c0c0" />
<rect x="907" y="417" width="3" height="20" fill="#c0c0c0" />
<rect x="915" y="416" width="3" height="21" fill="#c0c0c0" />
<path d="M158 448h5v1h-5zM382 448h5v1h-5zM658 448h5v1h-5zM729 448h6v1h-6zM141 444h4v1h-4zM404 444h5v1h-5zM644 444h4v1h-4zM751 444h6v1h-6zM130 441h3v1h-3zM421 441h6v1h-6zM632 441h5v1h-5zM770 441h7v1h-7zM49 419h18v1h-18zM910 419h4v1h-4zM127 440h3v1h-3zM427 440h4v1h-4zM627 440h5v1h-5zM777 440h7v1h-7zM177 452h5v1h-5zM362 452h5v1h-5zM685 452h28v1h-28zM119 437h3v1h-3zM439 437h3v1h-3zM609 437h7v1h-7zM798 437h7v1h-7zM101 430h2v1h-2zM469 430h31v1h-31zM850 430h8v1h-8zM114 435h3v1h-3zM446 435h3v1h-3zM538 435h65v1h-65zM812 435h7v1h-7zM67 420h10v1h-10zM906 420h4v1h-4zM109 433h2v1h-2zM453 433h4v1h-4zM516 433h10v1h-10zM826 433h8v1h-8zM137 443h4v1h-4zM409 443h6v1h-6zM641 443h3v1h-3zM757 443h7v1h-7zM125 439h2v1h-2zM431 439h4v1h-4zM622 439h5v1h-5zM784 439h7v1h-7zM219 462h5v1h-5zM329 462h4v1h-4zM153 447h5v1h-5zM387 447h5v1h-5zM654 447h4v1h-4zM735 447h5v1h-5zM163 449h4v1h-4zM377 449h5v1h-5zM663 449h7v1h-7zM724 449h5v1h-5zM167 450h5v1h-5zM372 450h5v1h-5zM670 450h8v1h-8zM719 450h5v1h-5zM192 455h5v1h-5zM352 455h3v1h-3zM145 445h4v1h-4zM398 445h6v1h-6zM648 445h3v1h-3zM745 445h6v1h-6zM237 465h7v1h-7zM316 465h5v1h-5zM230 464h7v1h-7zM321 464h4v1h-4zM103 431h3v1h-3zM462 431h7v1h-7zM500 431h8v1h-8zM842 431h8v1h-8zM244 466h6v1h-6zM312 466h4v1h-4zM149 446h4v1h-4zM392 446h6v1h-6zM651 446h3v1h-3zM740 446h5v1h-5zM197 456h4v1h-4zM349 456h3v1h-3zM257 468h7v1h-7zM303 468h4v1h-4zM133 442h4v1h-4zM415 442h6v1h-6zM637 442h4v1h-4zM764 442h6v1h-6zM172 451h5v1h-5zM367 451h5v1h-5zM678 451h7v1h-7zM713 451h6v1h-6zM122 438h3v1h-3zM435 438h4v1h-4zM616 438h6v1h-6zM791 438h7v1h-7zM106 432h3v1h-3zM457 432h5v1h-5zM508 432h8v1h-8zM834 432h8v1h-8zM250 467h7v1h-7zM307 467h5v1h-5zM98 429h3v1h-3zM858 429h8v1h-8zM4 416h9v1h-9zM272 470h27v1h-27zM111 434h3v1h-3zM449 434h4v1h-4zM526 434h12v1h-12zM819 434h7v1h-7zM93 427h2v1h-2zM872 427h6v1h-6zM182 453h5v1h-5zM358 453h4v1h-4zM264 469h8v1h-8zM299 469h4v1h-4zM224 463h6v1h-6zM325 463h4v1h-4zM82 423h3v1h-3zM894 423h4v1h-4zM13 417h18v1h-18zM205 458h3v1h-3zM342 458h3v1h-3zM187 454h5v1h-5zM355 454h3v1h-3zM31 418h18v1h-18zM914 418h3v1h-3zM85 424h2v1h-2zM890 424h4v1h-4zM117 436h2v1h-2zM442 436h4v1h-4zM603 436h6v1h-6zM805 436h7v1h-7zM90 426h3v1h-3zM878 426h6v1h-6zM201 457h4v1h-4zM345 457h4v1h-4zM77 421h2v1h-2zM902 421h4v1h-4zM79 422h3v1h-3zM898 422h4v1h-4zM87 425h3v1h-3zM884 425h6v1h-6zM208 459h4v1h-4zM339 459h3v1h-3zM212 460h3v1h-3zM336 460h3v1h-3zM95 428h3v1h-3zM866 428h6v1h-6zM215 461h4v1h-4zM333 461h3v1h-3z" fill="#ff0000" shape-rendering="crispEdges"/>
</g>
<text x="7.7" y="422" font-family="Liberation Sans" font-size="11" fill="#000" text-rendering="geometricPrecision" textLength="147.3" lengthAdjust="spacingAndGlyphs" >MACD(12,26,9) 0.004783 0.004171</text>
<g clip-path="url(#cr)" shape-rendering="crispEdges">
<line x1="4" y1="502.5" x2="1166" y2="502.5" stroke="#c0c0c0" stroke-width="1" stroke-dasharray="3,3" stroke-dashoffset="-1"/>
<line x1="4" y1="530.5" x2="1166" y2="530.5" stroke="#c0c0c0" stroke-width="1" stroke-dasharray="3,3" stroke-dashoffset="-1"/>
<path d="M85 522h3v1h-3zM111 522h8v1h-8zM125 522h3v1h-3zM277 522h1v1h-1zM318 522h4v1h-4zM325 522h2v1h-2zM615 522h2v1h-2zM654 522h1v1h-1zM98 527h2v1h-2zM139 527h5v1h-5zM150 527h5v1h-5zM272 527h1v1h-1zM625 527h2v1h-2zM648 527h1v1h-1zM30 508h1v1h-1zM442 508h11v1h-11zM851 508h5v1h-5zM891 508h2v1h-2zM914 508h2v1h-2zM32 511h1v1h-1zM386 511h22v1h-22zM419 511h3v1h-3zM455 511h1v1h-1zM522 511h2v1h-2zM533 511h1v1h-1zM799 511h2v1h-2zM814 511h2v1h-2zM827 511h1v1h-1zM829 511h2v1h-2zM843 511h2v1h-2zM896 511h1v1h-1zM907 511h3v1h-3zM33 512h1v1h-1zM382 512h4v1h-4zM456 512h1v1h-1zM520 512h2v1h-2zM534 512h1v1h-1zM764 512h19v1h-19zM797 512h2v1h-2zM816 512h1v1h-1zM826 512h1v1h-1zM831 512h1v1h-1zM841 512h2v1h-2zM897 512h2v1h-2zM905 512h2v1h-2zM36 516h2v1h-2zM48 516h2v1h-2zM338 516h4v1h-4zM374 516h2v1h-2zM459 516h1v1h-1zM462 516h2v1h-2zM477 516h2v1h-2zM513 516h2v1h-2zM540 516h19v1h-19zM569 516h2v1h-2zM583 516h2v1h-2zM675 516h2v1h-2zM702 516h4v1h-4zM728 516h3v1h-3zM737 516h8v1h-8zM750 516h4v1h-4zM821 516h1v1h-1zM55 519h4v1h-4zM65 519h8v1h-8zM79 519h2v1h-2zM282 519h2v1h-2zM287 519h4v1h-4zM295 519h4v1h-4zM310 519h2v1h-2zM330 519h2v1h-2zM347 519h3v1h-3zM368 519h2v1h-2zM483 519h2v1h-2zM487 519h3v1h-3zM587 519h2v1h-2zM591 519h3v1h-3zM597 519h3v1h-3zM658 519h1v1h-1zM666 519h4v1h-4zM680 519h2v1h-2zM695 519h2v1h-2zM34 513h1v1h-1zM43 513h2v1h-2zM380 513h2v1h-2zM456 513h1v1h-1zM519 513h1v1h-1zM535 513h2v1h-2zM715 513h6v1h-6zM761 513h3v1h-3zM783 513h4v1h-4zM793 513h4v1h-4zM817 513h1v1h-1zM824 513h2v1h-2zM832 513h2v1h-2zM839 513h2v1h-2zM899 513h2v1h-2zM903 513h2v1h-2zM188 532h10v1h-10zM209 532h2v1h-2zM226 532h7v1h-7zM264 532h2v1h-2zM636 532h3v1h-3zM52 518h3v1h-3zM73 518h6v1h-6zM284 518h3v1h-3zM299 518h11v1h-11zM332 518h2v1h-2zM344 518h3v1h-3zM370 518h2v1h-2zM481 518h2v1h-2zM490 518h21v1h-21zM563 518h4v1h-4zM586 518h1v1h-1zM594 518h3v1h-3zM659 518h1v1h-1zM662 518h4v1h-4zM670 518h2v1h-2zM679 518h1v1h-1zM697 518h2v1h-2zM88 523h2v1h-2zM106 523h5v1h-5zM128 523h3v1h-3zM276 523h1v1h-1zM322 523h3v1h-3zM617 523h3v1h-3zM653 523h1v1h-1zM93 525h3v1h-3zM102 525h2v1h-2zM133 525h3v1h-3zM274 525h1v1h-1zM622 525h2v1h-2zM650 525h2v1h-2zM876 502h8v1h-8zM35 514h1v1h-1zM40 514h3v1h-3zM45 514h2v1h-2zM378 514h2v1h-2zM457 514h1v1h-1zM467 514h5v1h-5zM517 514h2v1h-2zM537 514h1v1h-1zM711 514h4v1h-4zM721 514h5v1h-5zM758 514h3v1h-3zM787 514h6v1h-6zM818 514h2v1h-2zM823 514h1v1h-1zM834 514h2v1h-2zM837 514h2v1h-2zM901 514h2v1h-2zM29 507h1v1h-1zM856 507h4v1h-4zM890 507h1v1h-1zM32 510h1v1h-1zM408 510h11v1h-11zM422 510h4v1h-4zM432 510h6v1h-6zM454 510h1v1h-1zM524 510h3v1h-3zM531 510h2v1h-2zM801 510h2v1h-2zM813 510h1v1h-1zM828 510h1v1h-1zM845 510h2v1h-2zM894 510h2v1h-2zM910 510h2v1h-2zM96 526h2v1h-2zM100 526h2v1h-2zM136 526h3v1h-3zM144 526h6v1h-6zM273 526h1v1h-1zM624 526h1v1h-1zM649 526h1v1h-1zM200 534h3v1h-3zM205 534h2v1h-2zM239 534h4v1h-4zM260 534h2v1h-2zM155 528h5v1h-5zM271 528h1v1h-1zM627 528h1v1h-1zM646 528h2v1h-2zM185 531h3v1h-3zM211 531h15v1h-15zM266 531h2v1h-2zM632 531h4v1h-4zM639 531h4v1h-4zM31 509h1v1h-1zM426 509h6v1h-6zM438 509h4v1h-4zM453 509h1v1h-1zM527 509h4v1h-4zM803 509h10v1h-10zM847 509h4v1h-4zM893 509h1v1h-1zM912 509h2v1h-2zM160 529h13v1h-13zM270 529h1v1h-1zM628 529h2v1h-2zM645 529h1v1h-1zM50 517h2v1h-2zM334 517h4v1h-4zM342 517h2v1h-2zM372 517h2v1h-2zM460 517h2v1h-2zM479 517h2v1h-2zM511 517h2v1h-2zM559 517h4v1h-4zM567 517h2v1h-2zM585 517h1v1h-1zM660 517h2v1h-2zM672 517h3v1h-3zM677 517h2v1h-2zM699 517h3v1h-3zM731 517h6v1h-6zM745 517h5v1h-5zM203 535h2v1h-2zM243 535h3v1h-3zM258 535h2v1h-2zM14 505h15v1h-15zM864 505h4v1h-4zM887 505h1v1h-1zM83 521h2v1h-2zM119 521h6v1h-6zM278 521h2v1h-2zM314 521h4v1h-4zM327 521h1v1h-1zM354 521h12v1h-12zM603 521h12v1h-12zM655 521h1v1h-1zM684 521h9v1h-9zM173 530h12v1h-12zM268 530h2v1h-2zM630 530h2v1h-2zM643 530h2v1h-2zM8 504h6v1h-6zM868 504h4v1h-4zM886 504h1v1h-1zM35 515h1v1h-1zM38 515h2v1h-2zM47 515h1v1h-1zM376 515h2v1h-2zM458 515h1v1h-1zM464 515h3v1h-3zM472 515h5v1h-5zM515 515h2v1h-2zM538 515h2v1h-2zM571 515h12v1h-12zM706 515h5v1h-5zM726 515h2v1h-2zM754 515h4v1h-4zM820 515h1v1h-1zM822 515h1v1h-1zM836 515h1v1h-1zM246 536h3v1h-3zM256 536h2v1h-2zM59 520h6v1h-6zM81 520h2v1h-2zM280 520h2v1h-2zM291 520h4v1h-4zM312 520h2v1h-2zM328 520h2v1h-2zM350 520h4v1h-4zM366 520h2v1h-2zM485 520h2v1h-2zM589 520h2v1h-2zM600 520h3v1h-3zM656 520h2v1h-2zM682 520h2v1h-2zM693 520h2v1h-2zM90 524h3v1h-3zM104 524h2v1h-2zM131 524h2v1h-2zM275 524h1v1h-1zM620 524h2v1h-2zM652 524h1v1h-1zM4 503h4v1h-4zM872 503h4v1h-4zM884 503h2v1h-2zM252 538h2v1h-2zM29 506h1v1h-1zM860 506h4v1h-4zM888 506h2v1h-2zM198 533h2v1h-2zM207 533h2v1h-2zM233 533h6v1h-6zM262 533h2v1h-2zM249 537h3v1h-3zM254 537h2v1h-2z" fill="#1e90ff" shape-rendering="crispEdges"/>
</g>
<text x="7.5" y="494" font-family="Liberation Sans" font-size="11" fill="#000" text-rendering="geometricPrecision" textLength="68.0" lengthAdjust="spacingAndGlyphs" >RSI(14) 61.2356</text>
<rect x="1167" y="40" width="2" height="1" fill="#000" />
<text x="1171.7" y="44" font-family="Liberation Sans" font-size="10" fill="#000" text-rendering="geometricPrecision" textLength="32.8" lengthAdjust="spacingAndGlyphs" >0.75625</text>
<rect x="1167" y="73" width="2" height="1" fill="#000" />
<text x="1171.7" y="77" font-family="Liberation Sans" font-size="10" fill="#000" text-rendering="geometricPrecision" textLength="32.8" lengthAdjust="spacingAndGlyphs" >0.75085</text>
<rect x="1167" y="106" width="2" height="1" fill="#000" />
<text x="1171.7" y="110" font-family="Liberation Sans" font-size="10" fill="#000" text-rendering="geometricPrecision" textLength="32.8" lengthAdjust="spacingAndGlyphs" >0.74530</text>
<rect x="1167" y="139" width="2" height="1" fill="#000" />
<text x="1171.7" y="143" font-family="Liberation Sans" font-size="10" fill="#000" text-rendering="geometricPrecision" textLength="32.8" lengthAdjust="spacingAndGlyphs" >0.73975</text>
<rect x="1167" y="172" width="2" height="1" fill="#000" />
<text x="1171.7" y="176" font-family="Liberation Sans" font-size="10" fill="#000" text-rendering="geometricPrecision" textLength="32.8" lengthAdjust="spacingAndGlyphs" >0.73420</text>
<rect x="1167" y="205" width="2" height="1" fill="#000" />
<text x="1171.7" y="209" font-family="Liberation Sans" font-size="10" fill="#000" text-rendering="geometricPrecision" textLength="32.8" lengthAdjust="spacingAndGlyphs" >0.72865</text>
<rect x="1167" y="238" width="2" height="1" fill="#000" />
<text x="1171.7" y="242" font-family="Liberation Sans" font-size="10" fill="#000" text-rendering="geometricPrecision" textLength="32.8" lengthAdjust="spacingAndGlyphs" >0.72325</text>
<rect x="1167" y="271" width="2" height="1" fill="#000" />
<text x="1171.7" y="275" font-family="Liberation Sans" font-size="10" fill="#000" text-rendering="geometricPrecision" textLength="32.8" lengthAdjust="spacingAndGlyphs" >0.71770</text>
<rect x="1167" y="304" width="2" height="1" fill="#000" />
<text x="1171.7" y="308" font-family="Liberation Sans" font-size="10" fill="#000" text-rendering="geometricPrecision" textLength="32.8" lengthAdjust="spacingAndGlyphs" >0.71215</text>
<rect x="1167" y="337" width="2" height="1" fill="#000" />
<text x="1171.7" y="341" font-family="Liberation Sans" font-size="10" fill="#000" text-rendering="geometricPrecision" textLength="32.8" lengthAdjust="spacingAndGlyphs" >0.70660</text>
<rect x="1167" y="370" width="2" height="1" fill="#000" />
<text x="1171.7" y="374" font-family="Liberation Sans" font-size="10" fill="#000" text-rendering="geometricPrecision" textLength="32.8" lengthAdjust="spacingAndGlyphs" >0.70120</text>
<rect x="1167" y="403" width="2" height="1" fill="#000" />
<text x="1171.7" y="407" font-family="Liberation Sans" font-size="10" fill="#000" text-rendering="geometricPrecision" textLength="32.8" lengthAdjust="spacingAndGlyphs" >0.69565</text>
<rect x="1168" y="41" width="40" height="11" fill="#ff0000" />
<text x="1171.7" y="50" font-family="Liberation Sans" font-size="10" fill="#ffffff" text-rendering="geometricPrecision" textLength="32.8" lengthAdjust="spacingAndGlyphs" >0.75512</text>
<rect x="1168" y="131" width="40" height="11" fill="#ff0000" />
<text x="1171.7" y="140" font-family="Liberation Sans" font-size="10" fill="#ffffff" text-rendering="geometricPrecision" textLength="32.8" lengthAdjust="spacingAndGlyphs" >0.74002</text>
<rect x="1168" y="157" width="40" height="11" fill="#000000" />
<text x="1171.7" y="166" font-family="Liberation Sans" font-size="10" fill="#ffffff" text-rendering="geometricPrecision" textLength="32.8" lengthAdjust="spacingAndGlyphs" >0.73596</text>
<rect x="1168" y="221" width="40" height="11" fill="#ff0000" />
<text x="1171.7" y="230" font-family="Liberation Sans" font-size="10" fill="#ffffff" text-rendering="geometricPrecision" textLength="32.8" lengthAdjust="spacingAndGlyphs" >0.72513</text>
<rect x="1168" y="310" width="40" height="11" fill="#00ff00" />
<text x="1171.7" y="319" font-family="Liberation Sans" font-size="10" fill="#ffffff" text-rendering="geometricPrecision" textLength="32.8" lengthAdjust="spacingAndGlyphs" >0.71013</text>
<rect x="1168" y="399" width="40" height="11" fill="#0000ff" />
<text x="1171.7" y="408" font-family="Liberation Sans" font-size="10" fill="#ffffff" text-rendering="geometricPrecision" textLength="32.8" lengthAdjust="spacingAndGlyphs" >0.69520</text>
<rect x="1167" y="410" width="2" height="1" fill="#000" />
<text x="1170" y="419" font-family="Liberation Sans" font-size="10" fill="#000" text-rendering="geometricPrecision" textLength="38" lengthAdjust="spacingAndGlyphs" >0.006201</text>
<rect x="1167" y="437" width="2" height="1" fill="#000" />
<text x="1170" y="441" font-family="Liberation Sans" font-size="10" fill="#000" text-rendering="geometricPrecision" textLength="19" lengthAdjust="spacingAndGlyphs" >0.00</text>
<rect x="1167" y="477" width="2" height="1" fill="#000" />
<text x="1170" y="475" font-family="Liberation Sans" font-size="10" fill="#000" text-rendering="geometricPrecision" textLength="41" lengthAdjust="spacingAndGlyphs" >-0.009197</text>
<rect x="1167" y="482" width="2" height="1" fill="#000" />
<rect x="1167" y="551" width="2" height="1" fill="#000" />
<rect x="1163" y="502" width="3" height="1" fill="#c0c0c0" />
<rect x="1163" y="530" width="3" height="1" fill="#c0c0c0" />
<text x="1170" y="491" font-family="Liberation Sans" font-size="10" fill="#000" text-rendering="geometricPrecision" textLength="17" lengthAdjust="spacingAndGlyphs" >100</text>
<text x="1170" y="507" font-family="Liberation Sans" font-size="10" fill="#000" text-rendering="geometricPrecision" textLength="9" lengthAdjust="spacingAndGlyphs" >70</text>
<text x="1170" y="534" font-family="Liberation Sans" font-size="10" fill="#000" text-rendering="geometricPrecision" textLength="9" lengthAdjust="spacingAndGlyphs" >30</text>
<text x="1170" y="548" font-family="Liberation Sans" font-size="10" fill="#000" text-rendering="geometricPrecision" textLength="5" lengthAdjust="spacingAndGlyphs" >0</text>
<rect x="4" y="552" width="1" height="3" fill="#000" />
<text x="3.0" y="564" font-family="Liberation Sans" font-size="10" fill="#000" text-rendering="geometricPrecision" textLength="51.2" lengthAdjust="spacingAndGlyphs" >28 Oct 2021</text>
<rect x="68" y="552" width="1" height="3" fill="#000" />
<text x="66.8" y="564" font-family="Liberation Sans" font-size="10" fill="#000" text-rendering="geometricPrecision" textLength="48.7" lengthAdjust="spacingAndGlyphs" >7 Nov 2021</text>
<rect x="132" y="552" width="1" height="3" fill="#000" />
<text x="130.7" y="564" font-family="Liberation Sans" font-size="10" fill="#000" text-rendering="geometricPrecision" textLength="53.8" lengthAdjust="spacingAndGlyphs" >16 Nov 2021</text>
<rect x="196" y="552" width="1" height="3" fill="#000" />
<text x="195.5" y="564" font-family="Liberation Sans" font-size="10" fill="#000" text-rendering="geometricPrecision" textLength="53.3" lengthAdjust="spacingAndGlyphs" >25 Nov 2021</text>
<rect x="260" y="552" width="1" height="3" fill="#000" />
<text x="259.5" y="564" font-family="Liberation Sans" font-size="10" fill="#000" text-rendering="geometricPrecision" textLength="46.3" lengthAdjust="spacingAndGlyphs" >5 Dec 2021</text>
<rect x="324" y="552" width="1" height="3" fill="#000" />
<text x="322.5" y="564" font-family="Liberation Sans" font-size="10" fill="#000" text-rendering="geometricPrecision" textLength="51.8" lengthAdjust="spacingAndGlyphs" >14 Dec 2021</text>
<rect x="388" y="552" width="1" height="3" fill="#000" />
<text x="387.4" y="564" font-family="Liberation Sans" font-size="10" fill="#000" text-rendering="geometricPrecision" textLength="51.0" lengthAdjust="spacingAndGlyphs" >23 Dec 2021</text>
<rect x="452" y="552" width="1" height="3" fill="#000" />
<text x="451.5" y="564" font-family="Liberation Sans" font-size="10" fill="#000" text-rendering="geometricPrecision" textLength="44.3" lengthAdjust="spacingAndGlyphs" >2 Jan 2022</text>
<rect x="516" y="552" width="1" height="3" fill="#000" />
<text x="515.3" y="564" font-family="Liberation Sans" font-size="10" fill="#000" text-rendering="geometricPrecision" textLength="49.9" lengthAdjust="spacingAndGlyphs" >11 Jan 2022</text>
<rect x="580" y="552" width="1" height="3" fill="#000" />
<text x="578.1" y="564" font-family="Liberation Sans" font-size="10" fill="#000" text-rendering="geometricPrecision" textLength="50.3" lengthAdjust="spacingAndGlyphs" >20 Jan 2022</text>
<rect x="644" y="552" width="1" height="3" fill="#000" />
<text x="642.9" y="564" font-family="Liberation Sans" font-size="10" fill="#000" text-rendering="geometricPrecision" textLength="49.9" lengthAdjust="spacingAndGlyphs" >30 Jan 2022</text>
<rect x="708" y="552" width="1" height="3" fill="#000" />
<text x="706.3" y="564" font-family="Liberation Sans" font-size="10" fill="#000" text-rendering="geometricPrecision" textLength="47.5" lengthAdjust="spacingAndGlyphs" >8 Feb 2022</text>
<rect x="772" y="552" width="1" height="3" fill="#000" />
<text x="770.5" y="564" font-family="Liberation Sans" font-size="10" fill="#000" text-rendering="geometricPrecision" textLength="51.9" lengthAdjust="spacingAndGlyphs" >17 Feb 2022</text>
<rect x="836" y="552" width="1" height="3" fill="#000" />
<text x="834.9" y="564" font-family="Liberation Sans" font-size="10" fill="#000" text-rendering="geometricPrecision" textLength="52.3" lengthAdjust="spacingAndGlyphs" >27 Feb 2022</text>
<rect x="900" y="552" width="1" height="3" fill="#000" />
<text x="898.3" y="564" font-family="Liberation Sans" font-size="10" fill="#000" text-rendering="geometricPrecision" textLength="47.9" lengthAdjust="spacingAndGlyphs" >8 Mar 2022</text>
<rect x="0" y="572" width="1208" height="1" fill="#e3e3e3" />
<rect x="0" y="574" width="1208" height="1" fill="#000" />
<rect x="0" y="575" width="1208" height="18" fill="#f0f0f0" />
<rect x="0" y="593" width="1208" height="2" fill="#f9f9f9" />
<rect x="0" y="575" width="1" height="18" fill="#505050" />
<rect x="214" y="574" width="107" height="18" fill="#ffffff" />
<rect x="213" y="574" width="1" height="19" fill="#000" />
<rect x="320" y="574" width="1" height="19" fill="#000" />
<rect x="213" y="592" width="108" height="1" fill="#000" />
<text x="16.1" y="589" font-family="Liberation Sans" font-size="12" fill="#6e6e6e" text-rendering="geometricPrecision" textLength="77.5" lengthAdjust="spacingAndGlyphs" >USDX,Weekly</text>
<text x="115.8" y="589" font-family="Liberation Sans" font-size="12" fill="#6e6e6e" text-rendering="geometricPrecision" textLength="85.5" lengthAdjust="spacingAndGlyphs" >EURUSD-,Daily</text>
<text x="223.0" y="589" font-family="Liberation Sans" font-size="12" fill="#000" text-rendering="geometricPrecision" textLength="86.4" lengthAdjust="spacingAndGlyphs" >AUDUSD-,Daily</text>
<text x="332.6" y="589" font-family="Liberation Sans" font-size="12" fill="#6e6e6e" text-rendering="geometricPrecision" textLength="84.0" lengthAdjust="spacingAndGlyphs" >USDCHF-,Daily</text>
<text x="439.7" y="589" font-family="Liberation Sans" font-size="12" fill="#6e6e6e" text-rendering="geometricPrecision" textLength="86.5" lengthAdjust="spacingAndGlyphs" >USDCAD-,Daily</text>
<text x="548.8" y="589" font-family="Liberation Sans" font-size="12" fill="#6e6e6e" text-rendering="geometricPrecision" textLength="87.6" lengthAdjust="spacingAndGlyphs" >USDCNH-,Daily</text>
<text x="659.7" y="589" font-family="Liberation Sans" font-size="12" fill="#6e6e6e" text-rendering="geometricPrecision" textLength="77.5" lengthAdjust="spacingAndGlyphs" >XAUUSD-,M5</text>
<text x="759.3" y="589" font-family="Liberation Sans" font-size="12" fill="#6e6e6e" text-rendering="geometricPrecision" textLength="66.9" lengthAdjust="spacingAndGlyphs" >UKOil-,M30</text>
<text x="849.3" y="589" font-family="Liberation Sans" font-size="12" fill="#6e6e6e" text-rendering="geometricPrecision" textLength="64.5" lengthAdjust="spacingAndGlyphs" >DJ30-,Daily</text>
<text x="935.6" y="589" font-family="Liberation Sans" font-size="12" fill="#6e6e6e" text-rendering="geometricPrecision" textLength="62.6" lengthAdjust="spacingAndGlyphs" >UK100-,H1</text>
<text x="1020.6" y="589" font-family="Liberation Sans" font-size="12" fill="#6e6e6e" text-rendering="geometricPrecision" textLength="56.6" lengthAdjust="spacingAndGlyphs" >USOil-,H1</text>
<rect x="105" y="577" width="1" height="14" fill="#808080" />
<rect x="430" y="577" width="1" height="14" fill="#808080" />
<rect x="537" y="577" width="1" height="14" fill="#808080" />
<rect x="649" y="577" width="1" height="14" fill="#808080" />
<rect x="749" y="577" width="1" height="14" fill="#808080" />
<rect x="837" y="577" width="1" height="14" fill="#808080" />
<rect x="925" y="577" width="1" height="14" fill="#808080" />
<rect x="1010" y="577" width="1" height="14" fill="#808080" />
<rect x="1089" y="577" width="1" height="14" fill="#808080" />
<path d="M1185,580 L1182,583 L1185,586 Z" fill="#909090"/>
<path d="M1201,580 L1204,583 L1201,586 Z" fill="#909090"/>
</svg></body></html>
